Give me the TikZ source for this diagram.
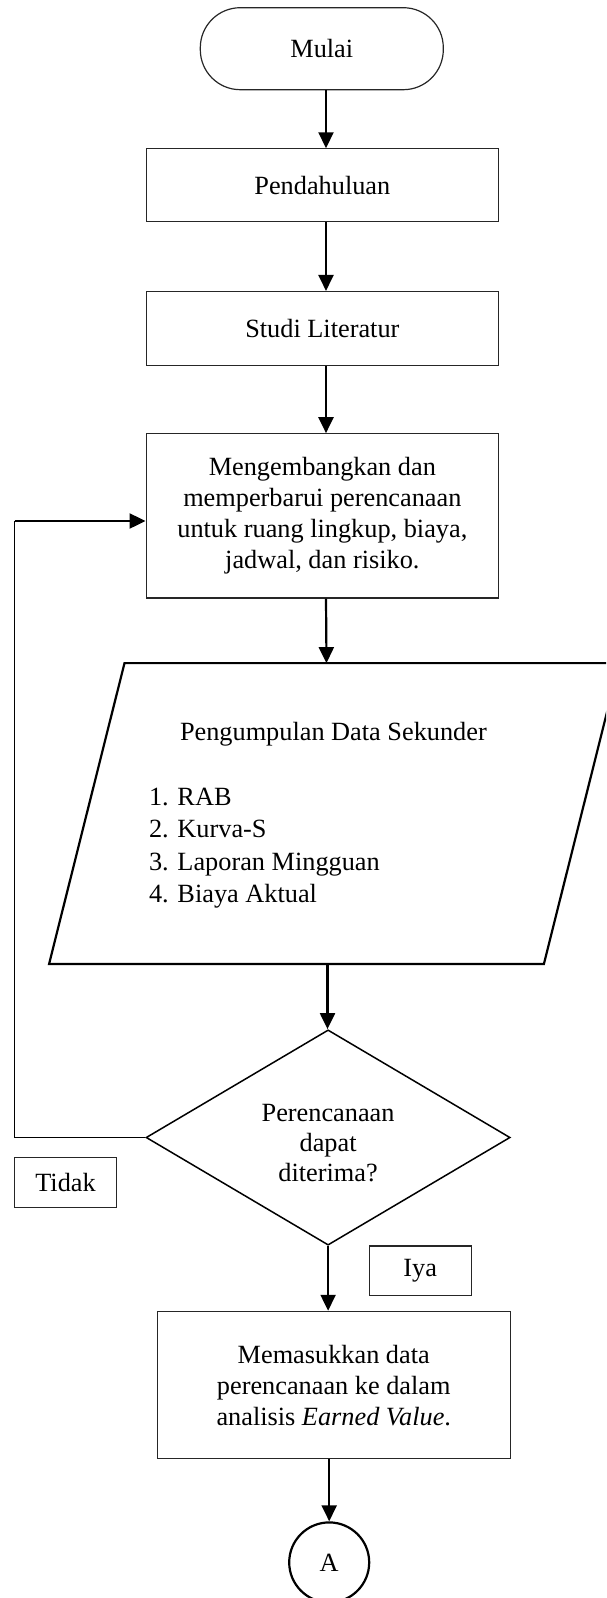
\documentclass[tikz,border=0pt]{standalone}
\usepackage{fontspec}
\setmainfont{Liberation Serif}
\usetikzlibrary{arrows.meta,shapes.geometric}
\begin{document}
\begin{tikzpicture}[x=1pt,y=-1pt,
  txt/.style={font=\fontsize{26.3}{31}\selectfont, align=center},
  term/.style={draw=black!85, line width=1.2pt, rounded corners=40pt, inner sep=0pt, txt},
  procbox/.style={draw=black!85, line width=1.1pt, inner sep=0pt, txt},
  lblbox/.style={draw=black!85, line width=1.1pt, inner sep=0pt, txt},
  arr/.style={line width=2.2pt, -{Triangle[length=16pt,width=15pt]}},
  thinline/.style={line width=1.1pt}
]
\useasboundingbox (0,0) rectangle (606,1598);
\clip (0,0) rectangle (606,1598);

% nodes
\node[term, minimum width=243pt, minimum height=82pt] (mulai) at (321.8,48.7) {Mulai};
\node[procbox, minimum width=352.5pt, minimum height=72.7pt] (pend) at (322.35,185.15) {Pendahuluan};
\node[procbox, minimum width=352.5pt, minimum height=73.8pt] (studi) at (322.35,328.4) {Studi Literatur};
\node[procbox, minimum width=352.5pt, minimum height=164.3pt] (meng) at (322.35,515.85)
  {Mengembangkan dan\\memperbarui perencanaan\\untuk ruang lingkup, biaya,\\jadwal, dan risiko.};

% data (parallelogram)
\draw[line width=2.2pt] (124.5,663.1) -- (619.3,663.1) -- (543.9,963.9) -- (49.1,963.9) -- cycle;
\coordinate (dtop) at (326.5,663.1);
\coordinate (dbot) at (327.5,963.9);
\node[txt, inner sep=0pt] (dhead) at (333.4,734) {Pengumpulan Data Sekunder};
\node[font=\fontsize{26.3}{32.5}\selectfont, align=left, anchor=west, inner sep=0pt] (dlist) at (148.8,848)
  {1. RAB\\2. Kurva-S\\3. Laporan Mingguan\\4. Biaya Aktual};

% decision
\node[diamond, draw, line width=1.5pt, minimum width=364.1pt, minimum height=215.3pt, inner sep=0pt] (dec) at (328.1,1137.5) {};
\node[font=\fontsize{26.3}{30}\selectfont, align=center, inner sep=0pt] (dectext) at (328.1,1143) {Perencanaan\\dapat\\diterima?};

\node[lblbox, minimum width=102.4pt, minimum height=49.5pt] (tidak) at (65.5,1182.5) {Tidak};
\node[lblbox, minimum width=102pt, minimum height=49.4pt] (iya) at (420.2,1270.7) {Iya};

\node[procbox, minimum width=352.9pt, minimum height=147.6pt] (memas) at (333.75,1385.1)
  {Memasukkan data\\perencanaan ke dalam\\analisis \textit{Earned Value}.};

\node[circle, draw, line width=2.2pt, minimum size=80pt, inner sep=0pt, txt] (A) at (329.2,1562.4) {A};

% connectors
\coordinate (ax) at (326,0);
\draw[arr] (mulai.south -| ax) -- (pend.north -| ax);
\draw[arr] (pend.south -| ax) -- (studi.north -| ax);
\draw[arr] (studi.south -| ax) -- (meng.north -| ax);
\draw[arr] (meng.south -| ax) -- (dtop);
\draw[arr] (dbot) -- (dbot |- dec.north);
\draw[arr] (dec.south) -- (memas.north -| dec.south);
\draw[arr] (memas.south -| A) -- (A.north);

\coordinate (lp) at (14.7,521);
\draw[thinline] (dec.west) -| (lp);
\draw[arr] (lp) -- (meng.west |- lp);
\end{tikzpicture}
\end{document}
